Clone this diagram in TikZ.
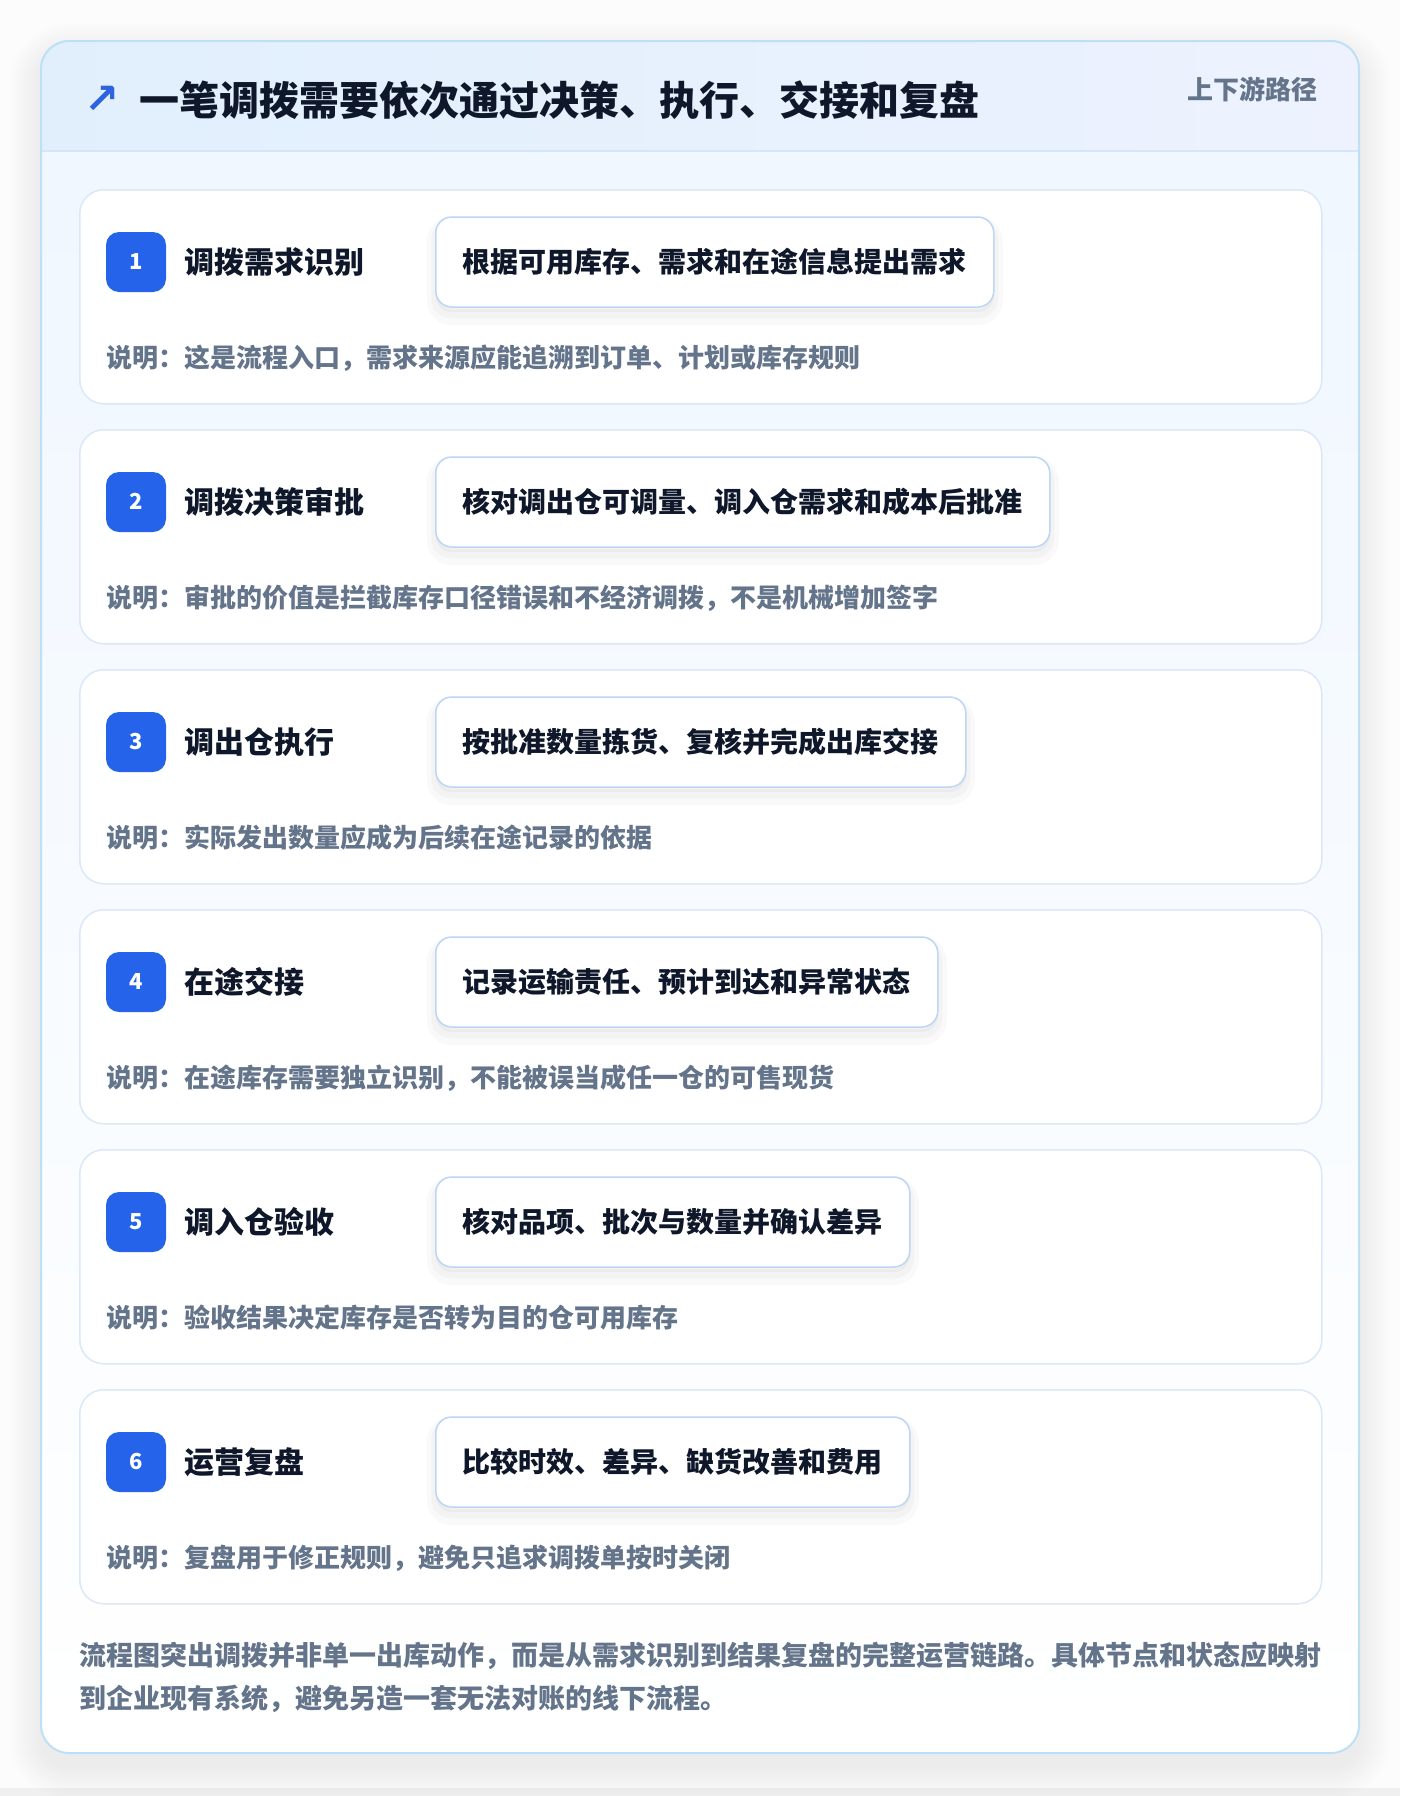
\documentclass[tikz,border=0pt]{standalone}
\usepackage{fontspec}
\setmainfont{Noto Sans CJK SC}
\newfontfamily\symfont{DejaVu Sans}
\definecolor{pagebg}{HTML}{FCFCFD}
\definecolor{frame}{HTML}{BEE0F6}
\definecolor{headL}{HTML}{E1EFFD}
\definecolor{headR}{HTML}{EDF2FE}
\definecolor{headline}{HTML}{D5E6F8}
\definecolor{bodytop}{HTML}{F0F7FF}
\definecolor{cardline}{HTML}{DAE8F7}
\definecolor{badgec}{HTML}{2563EB}
\definecolor{ink}{HTML}{0F172A}
\definecolor{slate}{HTML}{64748B}
\definecolor{detailline}{HTML}{BCD6F4}
\definecolor{arrowc}{HTML}{2F62E0}
\tikzset{
  cardbox/.style={draw=cardline, line width=1.5pt, fill=white, rounded corners=24pt,
    minimum width=1242pt, minimum height=214pt, inner sep=0pt, anchor=north west},
  badgebox/.style={fill=badgec, rounded corners=13pt, minimum width=60pt, minimum height=60pt,
    inner sep=0pt, text=white, font=\bfseries\fontsize{22}{26}\selectfont,
    text height=15pt, text depth=0pt},
  steptitle/.style={anchor=base west, inner sep=0pt, text=ink, font=\bfseries\fontsize{30}{36}\selectfont},
  detailbox/.style={anchor=west, draw=detailline, line width=1.5pt, fill=white, rounded corners=16pt,
    inner xsep=27pt, inner ysep=0pt, minimum height=90pt, text=ink,
    font=\bfseries\fontsize{28}{34}\selectfont, text height=24.6pt, text depth=3.4pt,
    preaction={draw=black, opacity=0.022, line width=18pt, transform canvas={yshift=-9pt}},
    preaction={draw=black, opacity=0.022, line width=9pt, transform canvas={yshift=-7pt}},
    preaction={fill=black, opacity=0.03, transform canvas={yshift=-5pt}}},
  notetext/.style={anchor=base west, inner sep=0pt, text=slate, font=\bfseries\fontsize{26}{32}\selectfont},
}
\begin{document}
\begin{tikzpicture}[x=1pt,y=-1pt]
\useasboundingbox (0,0) rectangle (1400,1796);
\fill[pagebg] (0,0) rectangle (1400,1796);
\fill[black!6] (0,1788) rectangle (1400,1796);
% outer soft shadow
\foreach \k in {1,...,16} {
  \pgfmathsetmacro\rr{28+2*\k}
  \fill[black, opacity=0.005, rounded corners=\rr pt] (41-2*\k,41-2*\k+14) rectangle (1359+2*\k,1753+2*\k+14);
}
\begin{scope}
  \clip[rounded corners=28pt] (41,41) rectangle (1359,1753);
  \shade[top color=bodytop, bottom color=white] (41,151) rectangle (1359,1753);
  \shade[left color=headL, right color=headR] (41,41) rectangle (1359,151);
  \draw[headline, line width=1.5pt] (41,151) -- (1359,151);
\end{scope}
\draw[frame, line width=2pt, rounded corners=28pt] (41,41) rectangle (1359,1753);
% header
\node[anchor=center, inner sep=0pt, text=arrowc, font=\symfont\bfseries\fontsize{42}{46}\selectfont] (arrow) at (102,100) {↗};
\node[anchor=base west, inner sep=0pt, text=ink, font=\bfseries\fontsize{40}{48}\selectfont] (title) at (139,115) {一笔调拨需要依次通过决策、执行、交接和复盘};
\node[anchor=base east, inner sep=0pt, text=slate, font=\bfseries\fontsize{26}{30}\selectfont] (tag) at (1318,99) {上下游路径};
% steps
\foreach \i/\t/\d/\n in {
  1/调拨需求识别/根据可用库存、需求和在途信息提出需求/说明：这是流程入口，需求来源应能追溯到订单、计划或库存规则,
  2/调拨决策审批/核对调出仓可调量、调入仓需求和成本后批准/说明：审批的价值是拦截库存口径错误和不经济调拨，不是机械增加签字,
  3/调出仓执行/按批准数量拣货、复核并完成出库交接/说明：实际发出数量应成为后续在途记录的依据,
  4/在途交接/记录运输责任、预计到达和异常状态/说明：在途库存需要独立识别，不能被误当成任一仓的可售现货,
  5/调入仓验收/核对品项、批次与数量并确认差异/说明：验收结果决定库存是否转为目的仓可用库存,
  6/运营复盘/比较时效、差异、缺货改善和费用/说明：复盘用于修正规则，避免只追求调拨单按时关闭} {
  \pgfmathsetmacro\cy{189+(\i-1)*240}
  \node[cardbox] (card\i) at (79,\cy) {};
  \node[badgebox] (badge\i) at (136,\cy+73) {\i};
  \node[steptitle] (title\i) at (184,\cy+84.5) {\t};
  \node[detailbox] (detail\i) at (435,\cy+73) {\d};
  \node[notetext] (note\i) at (106,\cy+178) {\n};
}
% footer
\node[anchor=north west, inner sep=0pt, text=slate, align=left,
  font=\bfseries\fontsize{27}{43}\selectfont] (footer) at (79,1642)
  {流程图突出调拨并非单一出库动作，而是从需求识别到结果复盘的完整运营链路。具体节点和状态应映射\\到企业现有系统，避免另造一套无法对账的线下流程。};
\end{tikzpicture}
\end{document}
